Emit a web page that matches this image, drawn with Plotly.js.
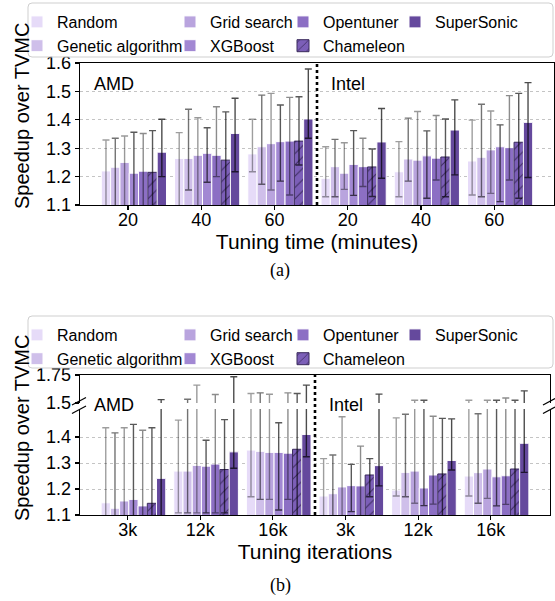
<!DOCTYPE html>
<html><head><meta charset="utf-8">
<script src="https://cdn.plot.ly/plotly-3.0.1.min.js"></script>
<style>html,body{margin:0;padding:0;background:#fff}#chart{width:555px;height:601px}</style>
</head><body><div id="chart"></div>
<script>
// ---------- data ----------
const methods = ['Random','Genetic algorithm','Grid search','XGBoost','Opentuner','Chameleon','SuperSonic'];
const colors = ['#e6dbf8','#cfbfea','#b9a4de','#a288d3','#8c6fc4','#7c5fb8','#65499d'];
const errColors = ['rgba(0,0,0,0.38)','rgba(0,0,0,0.55)','rgba(0,0,0,0.4)','rgba(0,0,0,0.65)','rgba(0,0,0,0.45)','rgba(0,0,0,0.65)','rgba(0,0,0,0.7)'];
const timeLabels = ['20','40','60','20','40','60'];
const iterLabels = ['3k','12k','16k','3k','12k','16k'];
const platforms = ['AMD','Intel'];

// (a) tuning time: AMD 20/40/60, Intel 20/40/60
const timeRandom     = [1.220, 1.264, 1.280, 1.194, 1.217, 1.255];
const timeGenetic    = [1.233, 1.264, 1.305, 1.235, 1.262, 1.268];
const timeGrid       = [1.250, 1.275, 1.316, 1.212, 1.258, 1.294];
const timeXGBoost    = [1.212, 1.282, 1.323, 1.243, 1.273, 1.305];
const timeOpentuner  = [1.219, 1.275, 1.325, 1.235, 1.265, 1.302];
const timeChameleon  = [1.215, 1.258, 1.325, 1.234, 1.269, 1.321];
const timeSuperSonic = [1.286, 1.352, 1.403, 1.322, 1.364, 1.391];

const timeRandomHi     = [1.329, 1.355, 1.402, 1.305, 1.323, 1.399];
const timeGeneticHi    = [1.335, 1.437, 1.487, 1.331, 1.406, 1.455];
const timeGridHi       = [1.343, 1.407, 1.493, 1.319, 1.429, 1.431];
const timeXGBoostHi    = [1.356, 1.372, 1.452, 1.362, 1.361, 1.382];
const timeOpentunerHi  = [1.352, 1.446, 1.479, 1.335, 1.415, 1.485];
const timeChameleonHi  = [1.362, 1.428, 1.481, 1.297, 1.403, 1.493];
const timeSuperSonicHi = [1.402, 1.476, 1.579, 1.440, 1.470, 1.531];

const timeRandomLo     = [1.090, 1.090, 1.217, 1.129, 1.129, 1.135];
const timeGeneticLo    = [1.090, 1.153, 1.173, 1.129, 1.184, 1.129];
const timeGridLo       = [1.090, 1.090, 1.153, 1.155, 1.090, 1.141];
const timeXGBoostLo    = [1.090, 1.180, 1.184, 1.134, 1.124, 1.112];
const timeOpentunerLo  = [1.090, 1.200, 1.135, 1.165, 1.188, 1.188];
const timeChameleonLo  = [1.090, 1.090, 1.241, 1.130, 1.129, 1.124];
const timeSuperSonicLo = [1.200, 1.217, 1.335, 1.194, 1.206, 1.197];

// (b) tuning iterations: AMD 3k/12k/16k, Intel 3k/12k/16k
const iterRandom     = [1.147, 1.269, 1.350, 1.173, 1.196, 1.250];
const iterGenetic    = [1.126, 1.269, 1.345, 1.182, 1.264, 1.263];
const iterGrid       = [1.154, 1.291, 1.341, 1.208, 1.269, 1.277];
const iterXGBoost    = [1.160, 1.288, 1.341, 1.213, 1.204, 1.247];
const iterOpentuner  = [1.135, 1.296, 1.338, 1.212, 1.254, 1.251];
const iterChameleon  = [1.145, 1.275, 1.353, 1.254, 1.258, 1.277];
const iterSuperSonic = [1.241, 1.343, 1.410, 1.290, 1.310, 1.376];

const iterRandomHi     = [1.436, 1.465, 1.585, 1.317, 1.474, 1.525];
const iterGeneticHi    = [1.416, 1.533, 1.590, 1.331, 1.488, 1.490];
const iterGridHi       = [1.436, 1.660, 1.578, 1.478, 1.525, 1.525];
const iterXGBoostHi    = [1.449, 1.388, 1.455, 1.295, 1.525, 1.525];
const iterOpentunerHi  = [1.426, 1.576, 1.590, 1.365, 1.480, 1.545];
const iterChameleonHi  = [1.436, 1.467, 1.585, 1.317, 1.472, 1.525];
const iterSuperSonicHi = [1.530, 1.735, 1.660, 1.579, 1.470, 1.608];

const iterRandomLo     = [1.050, 1.108, 1.170, 1.050, 1.173, 1.173];
const iterGeneticLo    = [1.050, 1.108, 1.160, 1.050, 1.170, 1.145];
const iterGridLo       = [1.050, 1.108, 1.160, 1.050, 1.145, 1.164];
const iterXGBoostLo    = [1.050, 1.108, 1.119, 1.113, 1.136, 1.135];
const iterOpentunerLo  = [1.050, 1.108, 1.160, 1.050, 1.142, 1.141];
const iterChameleonLo  = [1.050, 1.108, 1.050, 1.170, 1.050, 1.050];
const iterSuperSonicLo = [1.050, 1.280, 1.324, 1.212, 1.273, 1.264];

const timeMean = [timeRandom, timeGenetic, timeGrid, timeXGBoost, timeOpentuner, timeChameleon, timeSuperSonic];
const timeHi   = [timeRandomHi, timeGeneticHi, timeGridHi, timeXGBoostHi, timeOpentunerHi, timeChameleonHi, timeSuperSonicHi];
const timeLo   = [timeRandomLo, timeGeneticLo, timeGridLo, timeXGBoostLo, timeOpentunerLo, timeChameleonLo, timeSuperSonicLo];
const iterMean = [iterRandom, iterGenetic, iterGrid, iterXGBoost, iterOpentuner, iterChameleon, iterSuperSonic];
const iterHi   = [iterRandomHi, iterGeneticHi, iterGridHi, iterXGBoostHi, iterOpentunerHi, iterChameleonHi, iterSuperSonicHi];
const iterLo   = [iterRandomLo, iterGeneticLo, iterGridLo, iterXGBoostLo, iterOpentunerLo, iterChameleonLo, iterSuperSonicLo];

// ---------- helpers ----------
const W = 555, H = 601;
const px = v => v / W;
const py = v => 1 - v / H;
const FONT = 'Liberation Sans, Arial, Helvetica, sans-serif';
const hatchColor = '#3a2a5c';
const groupIdx = timeLabels.map((_, i) => i);
const tickPos = groupIdx.map(i => i - 0.08);
const xRange = [-0.736, groupIdx.length - 1 + 0.736];

function makeTraces(means, his, los, xa, ya, legendIds, showLegend) {
  return methods.map((name, m) => {
    const mean = means[m];
    const t = {
      type: 'bar', name: name, x: groupIdx, y: mean,
      xaxis: xa, yaxis: ya, showlegend: showLegend,
      legend: legendIds[Math.floor(m / 2)],
      hoverinfo: 'skip',
      marker: {
        color: colors[m],
        line: { color: m === 5 ? hatchColor : '#ffffff', width: 1 }
      },
      error_y: {
        type: 'data', symmetric: false,
        array: his[m].map((h, k) => h - mean[k]),
        arrayminus: los[m].map((l, k) => mean[k] - l),
        color: errColors[m], thickness: 1.4, width: 3.5
      }
    };
    if (m === 5) t.marker.pattern = { shape: '/', fgcolor: hatchColor, bgcolor: colors[m], fillmode: 'replace', size: 8, solidity: 0.12 };
    return t;
  });
}

const legA = ['legend', 'legend2', 'legend3', 'legend4'];
const legB = ['legend5', 'legend6', 'legend7', 'legend8'];
const data = [].concat(
  makeTraces(timeMean, timeHi, timeLo, 'x', 'y', legA, true),
  makeTraces(iterMean, iterHi, iterLo, 'x2', 'y2', legB, true),
  makeTraces(iterMean, iterHi, iterLo, 'x3', 'y3', legB, false)
);

// ---------- layout ----------
const axisLine = { showline: true, linecolor: '#000', linewidth: 1.3, zeroline: false };
const tickFont = { family: FONT, size: 18, color: '#000' };
const gridY = { showgrid: true, gridcolor: '#c4c4c4', griddash: 'dot', gridwidth: 1 };

function legendAt(col, topPx) {
  const xs = [17, 170, 283, 395];
  return {
    x: px(xs[col]), xanchor: 'left', y: py(topPx), yanchor: 'top',
    orientation: 'v', bgcolor: 'rgba(0,0,0,0)', borderwidth: 0,
    font: { family: FONT, size: 16, color: '#000' },
    itemclick: false, itemdoubleclick: false, tracegroupgap: 0
  };
}

function roundRect(x0, y0, x1, y1, r) {
  const rx = r / W, ry = r / H;
  const X0 = px(x0), X1 = px(x1), Y0 = py(y0), Y1 = py(y1);
  return `M${X0 + rx},${Y0} L${X1 - rx},${Y0} Q${X1},${Y0} ${X1},${Y0 - ry} L${X1},${Y1 + ry} Q${X1},${Y1} ${X1 - rx},${Y1} L${X0 + rx},${Y1} Q${X0},${Y1} ${X0},${Y1 + ry} L${X0},${Y0 - ry} Q${X0},${Y0} ${X0 + rx},${Y0} Z`;
}

const sepLine = { color: '#000', width: 2.6, dash: 'dot' };
const breakLine = { color: '#000', width: 1.2 };
const shapes = [
  { type: 'path', xref: 'paper', yref: 'paper', path: roundRect(28, 3, 553, 57, 4), line: { color: '#cfcfcf', width: 1 }, fillcolor: 'rgba(255,255,255,0.8)', layer: 'above' },
  { type: 'path', xref: 'paper', yref: 'paper', path: roundRect(28, 316, 553, 368, 4), line: { color: '#cfcfcf', width: 1 }, fillcolor: 'rgba(255,255,255,0.8)', layer: 'above' },
  { type: 'line', xref: 'x', yref: 'paper', x0: (groupIdx.length - 1) / 2, x1: (groupIdx.length - 1) / 2, y0: py(205), y1: py(63), line: sepLine },
  { type: 'line', xref: 'x2', yref: 'paper', x0: (groupIdx.length - 1) / 2, x1: (groupIdx.length - 1) / 2, y0: py(515), y1: py(375), line: sepLine },
  { type: 'line', xref: 'paper', yref: 'paper', x0: px(72), y0: py(405), x1: px(86), y1: py(397.5), line: breakLine },
  { type: 'line', xref: 'paper', yref: 'paper', x0: px(72), y0: py(413.5), x1: px(86), y1: py(406), line: breakLine },
  { type: 'line', xref: 'paper', yref: 'paper', x0: px(543), y0: py(405), x1: px(555), y1: py(398.5), line: breakLine },
  { type: 'line', xref: 'paper', yref: 'paper', x0: px(543), y0: py(413.5), x1: px(555), y1: py(407), line: breakLine }
];

const annFont = { family: FONT, size: 18, color: '#000' };
const annotations = [
  { text: platforms[0], xref: 'paper', yref: 'paper', x: px(92), y: py(84), xanchor: 'left', yanchor: 'middle', showarrow: false, font: annFont },
  { text: platforms[1], xref: 'paper', yref: 'paper', x: px(329), y: py(84), xanchor: 'left', yanchor: 'middle', showarrow: false, font: annFont },
  { text: platforms[0], xref: 'paper', yref: 'paper', x: px(92), y: py(405), xanchor: 'left', yanchor: 'middle', showarrow: false, font: annFont },
  { text: platforms[1], xref: 'paper', yref: 'paper', x: px(327), y: py(405), xanchor: 'left', yanchor: 'middle', showarrow: false, font: annFont },
  { text: 'Speedup over TVMC', xref: 'paper', yref: 'paper', x: px(22), y: py(116), xanchor: 'center', yanchor: 'middle', textangle: -90, showarrow: false, font: { family: FONT, size: 20, color: '#000' } },
  { text: 'Speedup over TVMC', xref: 'paper', yref: 'paper', x: px(22), y: py(428), xanchor: 'center', yanchor: 'middle', textangle: -90, showarrow: false, font: { family: FONT, size: 20, color: '#000' } },
  { text: '(a)', xref: 'paper', yref: 'paper', x: px(280), y: py(270), xanchor: 'center', yanchor: 'middle', showarrow: false, font: { family: 'Liberation Serif, DejaVu Serif, serif', size: 18, color: '#000' } },
  { text: '(b)', xref: 'paper', yref: 'paper', x: px(280), y: py(585), xanchor: 'center', yanchor: 'middle', showarrow: false, font: { family: 'Liberation Serif, DejaVu Serif, serif', size: 18, color: '#000' } }
];

const layout = {
  width: W, height: H,
  margin: { l: 0, r: 0, t: 0, b: 0 },
  paper_bgcolor: '#ffffff', plot_bgcolor: 'rgba(0,0,0,0)',
  font: { family: FONT, size: 18, color: '#000' },
  barmode: 'group', bargap: 0.11, bargroupgap: 0,
  showlegend: true,
  xaxis: Object.assign({}, axisLine, {
    domain: [px(80), px(554)], range: xRange, anchor: 'y', mirror: true,
    tickmode: 'array', tickvals: tickPos, ticktext: timeLabels,
    ticks: 'outside', ticklen: 4, tickwidth: 1.2, tickcolor: '#000', tickfont: tickFont, showgrid: false,
    ticklabelstandoff: -6,
    title: { text: 'Tuning time (minutes)', font: { family: FONT, size: 21, color: '#000' }, standoff: 1 }
  }),
  yaxis: Object.assign({}, axisLine, gridY, {
    domain: [py(205), py(63)], range: [1.1, 1.6], anchor: 'x', mirror: true,
    tickmode: 'array', tickvals: [1.1, 1.2, 1.3, 1.4, 1.5, 1.6], ticktext: ['1.1', '1.2', '1.3', '1.4', '1.5', '1.6'],
    ticks: 'outside', ticklen: 4, tickwidth: 1.2, tickcolor: '#000', tickfont: tickFont
  }),
  xaxis2: Object.assign({}, axisLine, {
    domain: [px(80), px(550)], range: xRange, anchor: 'y2', mirror: false,
    tickmode: 'array', tickvals: tickPos, ticktext: iterLabels,
    ticks: 'outside', ticklen: 4, tickwidth: 1.2, tickcolor: '#000', tickfont: tickFont, showgrid: false,
    ticklabelstandoff: -6,
    title: { text: 'Tuning iterations', font: { family: FONT, size: 21, color: '#000' }, standoff: 2 }
  }),
  yaxis2: Object.assign({}, axisLine, gridY, {
    domain: [py(515), py(409)], range: [1.1, 1.508], anchor: 'x2', mirror: true,
    tickmode: 'array', tickvals: [1.1, 1.2, 1.3, 1.4], ticktext: ['1.1', '1.2', '1.3', '1.4'],
    ticks: 'outside', ticklen: 4, tickwidth: 1.2, tickcolor: '#000', tickfont: tickFont
  }),
  xaxis3: Object.assign({}, axisLine, {
    domain: [px(80), px(550)], range: xRange, anchor: 'y3', side: 'top', mirror: false,
    showticklabels: false, ticks: '', showgrid: false
  }),
  yaxis3: Object.assign({}, axisLine, {
    domain: [py(403), py(375)], range: [1.5, 1.75], anchor: 'x3', mirror: true, showgrid: false,
    tickmode: 'array', tickvals: [1.5, 1.75], ticktext: ['1.5', '1.75'],
    ticks: 'outside', ticklen: 4, tickwidth: 1.2, tickcolor: '#000', tickfont: tickFont
  }),
  legend: legendAt(0, 5), legend2: legendAt(1, 5), legend3: legendAt(2, 5), legend4: legendAt(3, 5),
  legend5: legendAt(0, 318), legend6: legendAt(1, 318), legend7: legendAt(2, 318), legend8: legendAt(3, 318),
  shapes: shapes,
  annotations: annotations
};

Plotly.newPlot('chart', data, layout, { displayModeBar: false, staticPlot: true });
</script>
</body></html>
